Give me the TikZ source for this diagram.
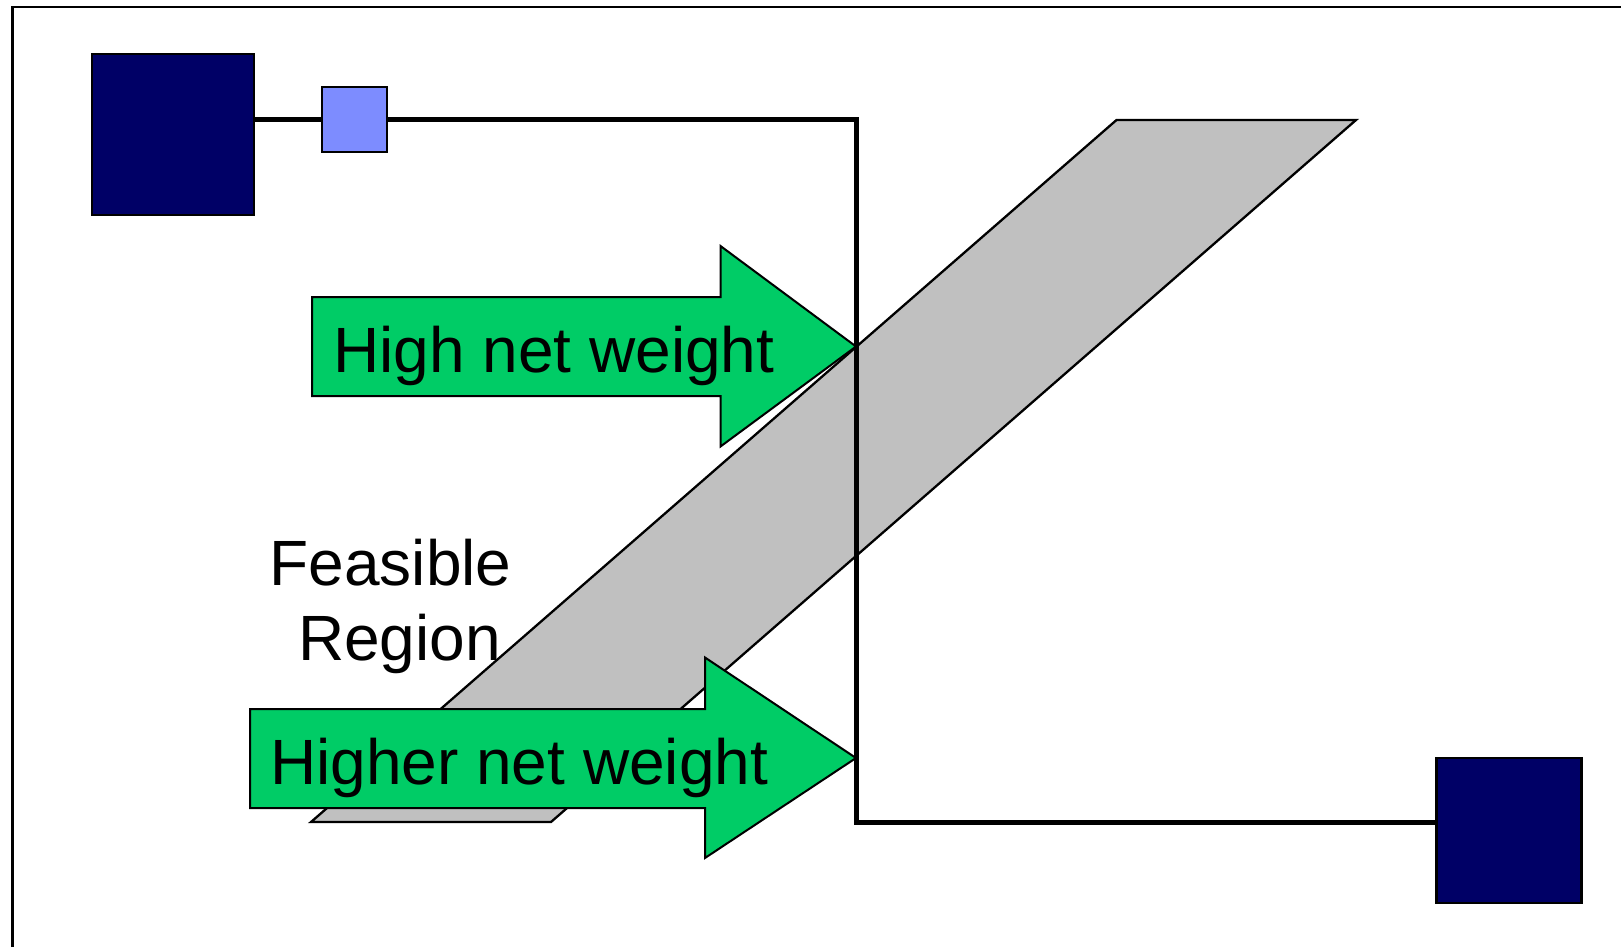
\documentclass[tikz,border=0pt]{standalone}
\usepackage{fontspec}
\setmainfont{Liberation Sans}
\definecolor{navy}{RGB}{0,0,102}
\definecolor{pinblue}{RGB}{125,140,255}
\definecolor{arrowgreen}{RGB}{0,204,102}
\definecolor{regiongray}{RGB}{192,192,192}
\tikzset{
  cell/.style={draw=black, line width=2.5pt, fill=navy, inner sep=0pt},
  pin/.style={draw=black, line width=2.5pt, fill=pinblue, inner sep=0pt},
  wire/.style={draw=black, line width=5pt},
  region/.style={draw=black, line width=2.3pt, fill=regiongray, line join=miter},
  bigarrow/.style={draw=black, line width=2pt, fill=arrowgreen, line join=miter},
  label/.style={font=\fontsize{64}{75}\selectfont, inner sep=0pt},
}
\begin{document}
\begin{tikzpicture}[x=1pt,y=-1pt]
\useasboundingbox (0,0) rectangle (1621,947);
% frame
\draw[line width=2.3pt] (12.5,947) -- (12.5,7) -- (1621,7);
% feasible region
\path[region] (1116.5,120) -- (1356,120) -- (551,822) -- (311,822) -- cycle;
% text
\node[label, anchor=base] (feas) at (390.5,585) {Feasible};
\node[label, anchor=base] (reg) at (399.5,660) {Region};
% arrows
\coordinate (tipA) at (856,346.5);
\coordinate (tipB) at (856,758);
\path[bigarrow] (312,297) -- (720.5,297) -- (720.5,246) -- (tipA) -- (720.5,446.5) -- (720.5,396) -- (312,396) -- cycle;
\node[label, anchor=base west] (hnw) at (333,372) {High net weight};
\path[bigarrow] (250,709) -- (705,709) -- (705,657.5) -- (tipB) -- (705,858) -- (705,808) -- (250,808) -- cycle;
\node[label, anchor=base west] (hrnw) at (270,784) {Higher net weight};
% cells and pin
\node[cell, minimum width=162pt, minimum height=161pt] (src) at (173,134.5) {};
\node[pin, minimum width=65pt, minimum height=65pt] (p) at (354.5,119.5) {};
\node[cell, minimum width=145pt, minimum height=145pt] (dst) at (1509,830.5) {};
% wires
\coordinate (c1) at (856,119.5);
\coordinate (c2) at (856,822);
\draw[wire] (src.east |- p.west) -- (p.west);
\draw[wire, line join=miter] (p.east) -- (c1) -- (c2) -- (c2 -| dst.west);
\end{tikzpicture}
\end{document}
